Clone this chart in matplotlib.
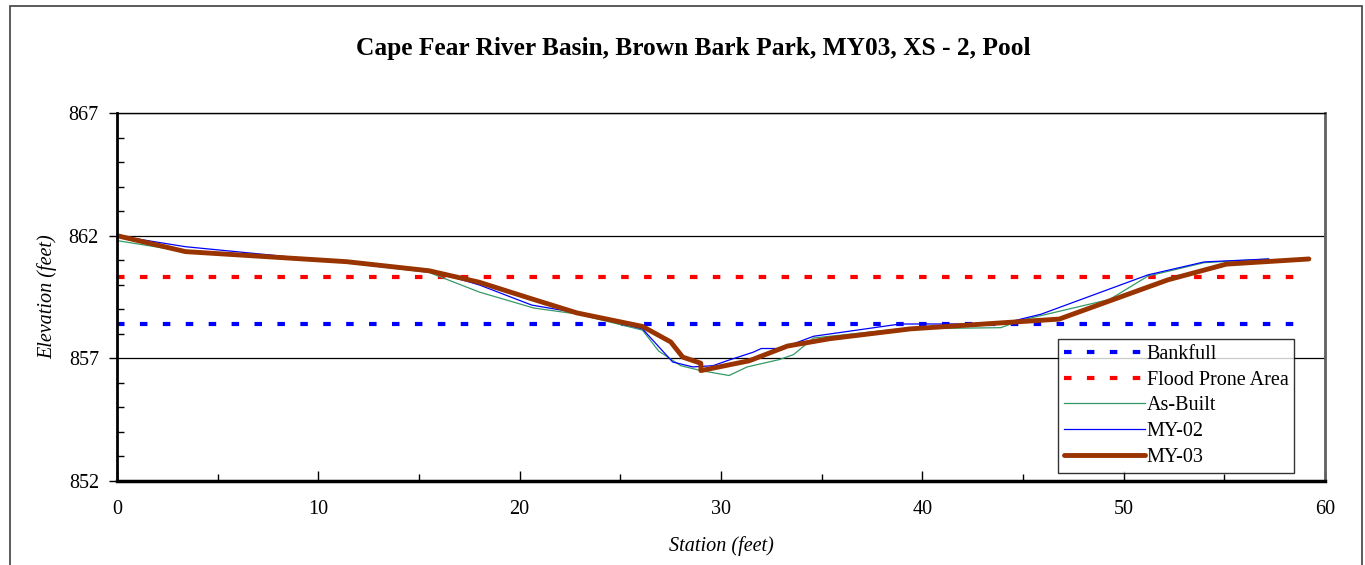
import matplotlib
matplotlib.use("Agg")
import matplotlib.pyplot as plt
from matplotlib.ticker import MultipleLocator, FixedLocator
from matplotlib.patches import Rectangle

# cross-section survey data (station ft, elevation ft)
as_built_x = [0, 3.4, 11.4, 15.5, 18.0, 20.7, 22.9, 26.1, 26.9, 28.0, 29.0, 30.4, 31.3,
              32.9, 33.6, 34.6, 38.9, 43.9, 44.9, 49.3, 51.2, 54.0, 57.2]
as_built_y = [861.8, 861.35, 860.9, 860.5, 859.7, 859.05, 858.8, 858.15, 857.3, 856.7, 856.5, 856.3, 856.65,
              856.95, 857.15, 857.83, 858.2, 858.25, 858.55, 859.4, 860.35, 860.9, 861.05]

my02_x = [0, 3.4, 9.0, 15.5, 18.0, 20.6, 22.9, 26.1, 27.6, 28.6, 29.6, 30.4, 31.6, 32.0,
          32.8, 33.3, 34.6, 38.9, 43.9, 45.9, 51.2, 54.0, 57.2]
my02_y = [862.0, 861.55, 861.1, 860.6, 859.99, 859.17, 858.85, 858.2, 856.85, 856.65, 856.7, 856.93, 857.25, 857.4,
          857.4, 857.5, 857.9, 858.4, 858.4, 858.8, 860.4, 860.93, 861.05]

my03_x = [0, 3.4, 11.4, 15.5, 18.0, 20.5, 22.85, 26.1, 27.5, 28.1, 29.0, 29.0, 31.4, 33.3,
          35.4, 39.4, 44.0, 46.8, 52.2, 55.1, 59.2]
my03_y = [862.0, 861.35, 860.94, 860.57, 860.1, 859.45, 858.85, 858.3, 857.67, 857.05, 856.8, 856.5, 856.9, 857.5,
          857.8, 858.2, 858.45, 858.6, 860.2, 860.84, 861.05]

bankfull_x = [0, 59]
bankfull_elev = 858.4
flood_x = [0, 59]
flood_elev = 860.3

y_ticks = [852, 857, 862, 867]
title = "Cape Fear River Basin, Brown Bark Park, MY03, XS - 2, Pool"

plt.rcParams["font.family"] = ["Liberation Serif", "DejaVu Serif"]

fig = plt.figure(figsize=(13.65, 5.65), dpi=100)
ax = fig.add_axes([117 / 1365, 1 - 481 / 565, (1325 - 117) / 1365, (481 - 113) / 565])

# outer chart border
fig.patches.append(Rectangle((10 / 1365, -0.01), (1362 - 10) / 1365, 1 - 6 / 565 + 0.01,
                             transform=fig.transFigure, fill=False, edgecolor="#404040", lw=1.2))

dash = (0, (1.8, 3.7))
ax.plot(bankfull_x, [bankfull_elev] * 2, color="#0000FF", lw=3, linestyle=dash,
        dash_capstyle="butt", label="Bankfull")
ax.plot(flood_x, [flood_elev] * 2, color="#FF0000", lw=3, linestyle=dash,
        dash_capstyle="butt", label="Flood Prone Area")
ax.plot(as_built_x, as_built_y, color="#339966", lw=0.9, label="As-Built")
ax.plot(my02_x, my02_y, color="#0000FF", lw=0.9, label="MY-02")
ax.plot(my03_x, my03_y, color="#993300", lw=3.5, solid_capstyle="round", label="MY-03")

ax.set_xlim(0, 60)
ax.set_ylim(852, 867)
ax.xaxis.set_major_locator(MultipleLocator(10))
ax.xaxis.set_minor_locator(MultipleLocator(5))
ax.yaxis.set_major_locator(FixedLocator(y_ticks))
ax.yaxis.set_minor_locator(MultipleLocator(1))
ax.grid(axis="y", which="major", color="black", lw=0.9)

ax.tick_params(axis="y", which="major", direction="out", length=6, width=1, labelsize=14.5, pad=7)
ax.tick_params(axis="y", which="minor", direction="in", length=5, width=1)
ax.tick_params(axis="x", which="major", direction="in", length=7, width=1, labelsize=14.5, pad=14)
ax.tick_params(axis="x", which="minor", direction="in", length=5, width=1)

ax.spines["left"].set_linewidth(2)
ax.spines["bottom"].set_linewidth(2.5)
ax.spines["top"].set_linewidth(1)
ax.spines["right"].set_linewidth(2)
ax.spines["right"].set_color("#606060")

ax.set_xlabel("Station (feet)", fontsize=14.5, style="italic", labelpad=12)
ax.set_ylabel("Elevation (feet)", fontsize=14.5, style="italic", labelpad=8)
fig.text(0.508, 0.914, title, ha="center", va="center", fontsize=18.3, fontweight="bold")

leg = ax.legend(loc="lower left", bbox_to_anchor=(0.779, 0.022), fontsize=14.5, frameon=True,
                fancybox=False, edgecolor="black", handlelength=4.0, handletextpad=0.1,
                labelspacing=0.33, borderpad=0.3, borderaxespad=0)
leg.get_frame().set_linewidth(1)

fig.savefig("out.png", dpi=100)
